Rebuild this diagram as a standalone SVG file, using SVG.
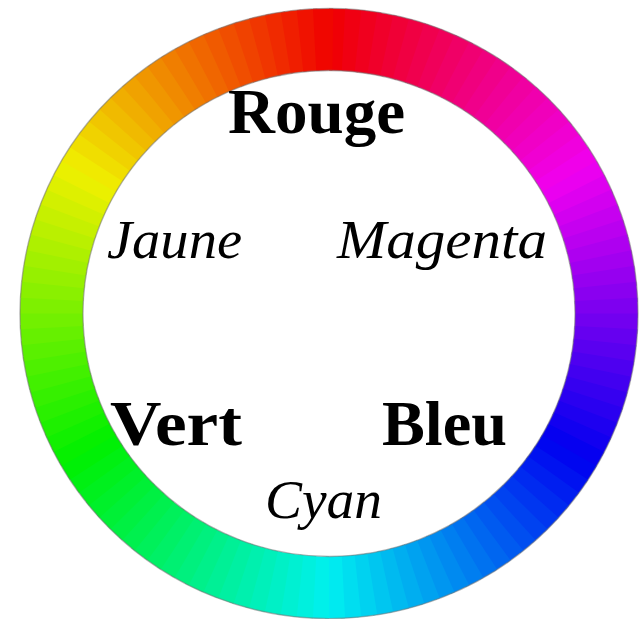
<svg xmlns="http://www.w3.org/2000/svg" xmlns:xlink="http://www.w3.org/1999/xlink" width="640" height="619" viewBox="0 0 640 619">
<style>
.seg{fill:none;stroke-width:62.5;stroke-dasharray:3.8 356.2}
.bold{font-family:"Liberation Serif","Times New Roman",serif;font-weight:bold;font-size:64px;fill:#000}
.ital{font-family:"Liberation Serif","Times New Roman",serif;font-style:italic;font-size:55px;fill:#000}
.edge{fill:none;stroke:#777;stroke-opacity:0.55;stroke-width:1.4}
</style>
<defs>
<circle id="c" cx="0" cy="0" r="275.5" pathLength="360"/>
</defs>
<rect width="640" height="619" fill="#fff"/>
<g id="ring" transform="translate(329,313.5) scale(1.0073,0.9946) rotate(-90)">
<g class="seg">
<use href="#c" style="stroke:hsl(358.5,100%,47%);stroke-dashoffset:0"/>
<use href="#c" style="stroke:hsl(355.5,100%,47%);stroke-dashoffset:-3"/>
<use href="#c" style="stroke:hsl(352.5,100%,47%);stroke-dashoffset:-6"/>
<use href="#c" style="stroke:hsl(349.5,100%,47%);stroke-dashoffset:-9"/>
<use href="#c" style="stroke:hsl(346.5,100%,47%);stroke-dashoffset:-12"/>
<use href="#c" style="stroke:hsl(343.5,100%,47%);stroke-dashoffset:-15"/>
<use href="#c" style="stroke:hsl(340.5,100%,47%);stroke-dashoffset:-18"/>
<use href="#c" style="stroke:hsl(337.5,100%,47%);stroke-dashoffset:-21"/>
<use href="#c" style="stroke:hsl(334.5,100%,47%);stroke-dashoffset:-24"/>
<use href="#c" style="stroke:hsl(331.5,100%,47%);stroke-dashoffset:-27"/>
<use href="#c" style="stroke:hsl(328.5,100%,47%);stroke-dashoffset:-30"/>
<use href="#c" style="stroke:hsl(325.5,100%,47%);stroke-dashoffset:-33"/>
<use href="#c" style="stroke:hsl(322.5,100%,47%);stroke-dashoffset:-36"/>
<use href="#c" style="stroke:hsl(319.5,100%,47%);stroke-dashoffset:-39"/>
<use href="#c" style="stroke:hsl(316.5,100%,47%);stroke-dashoffset:-42"/>
<use href="#c" style="stroke:hsl(313.5,100%,47%);stroke-dashoffset:-45"/>
<use href="#c" style="stroke:hsl(310.5,100%,47%);stroke-dashoffset:-48"/>
<use href="#c" style="stroke:hsl(307.5,100%,47%);stroke-dashoffset:-51"/>
<use href="#c" style="stroke:hsl(304.5,100%,47%);stroke-dashoffset:-54"/>
<use href="#c" style="stroke:hsl(301.5,100%,47%);stroke-dashoffset:-57"/>
<use href="#c" style="stroke:hsl(298.5,100%,47%);stroke-dashoffset:-60"/>
<use href="#c" style="stroke:hsl(295.5,100%,47%);stroke-dashoffset:-63"/>
<use href="#c" style="stroke:hsl(292.5,100%,47%);stroke-dashoffset:-66"/>
<use href="#c" style="stroke:hsl(289.5,100%,47%);stroke-dashoffset:-69"/>
<use href="#c" style="stroke:hsl(286.5,100%,47%);stroke-dashoffset:-72"/>
<use href="#c" style="stroke:hsl(283.5,100%,47%);stroke-dashoffset:-75"/>
<use href="#c" style="stroke:hsl(280.5,100%,47%);stroke-dashoffset:-78"/>
<use href="#c" style="stroke:hsl(277.5,100%,47%);stroke-dashoffset:-81"/>
<use href="#c" style="stroke:hsl(274.5,100%,47%);stroke-dashoffset:-84"/>
<use href="#c" style="stroke:hsl(271.5,100%,47%);stroke-dashoffset:-87"/>
<use href="#c" style="stroke:hsl(268.5,100%,47%);stroke-dashoffset:-90"/>
<use href="#c" style="stroke:hsl(265.5,100%,47%);stroke-dashoffset:-93"/>
<use href="#c" style="stroke:hsl(262.5,100%,47%);stroke-dashoffset:-96"/>
<use href="#c" style="stroke:hsl(259.5,100%,47%);stroke-dashoffset:-99"/>
<use href="#c" style="stroke:hsl(256.5,100%,47%);stroke-dashoffset:-102"/>
<use href="#c" style="stroke:hsl(253.5,100%,47%);stroke-dashoffset:-105"/>
<use href="#c" style="stroke:hsl(250.5,100%,47%);stroke-dashoffset:-108"/>
<use href="#c" style="stroke:hsl(247.5,100%,47%);stroke-dashoffset:-111"/>
<use href="#c" style="stroke:hsl(244.5,100%,47%);stroke-dashoffset:-114"/>
<use href="#c" style="stroke:hsl(241.5,100%,47%);stroke-dashoffset:-117"/>
<use href="#c" style="stroke:hsl(238.5,100%,47%);stroke-dashoffset:-120"/>
<use href="#c" style="stroke:hsl(235.5,100%,47%);stroke-dashoffset:-123"/>
<use href="#c" style="stroke:hsl(232.5,100%,47%);stroke-dashoffset:-126"/>
<use href="#c" style="stroke:hsl(229.5,100%,47%);stroke-dashoffset:-129"/>
<use href="#c" style="stroke:hsl(226.5,100%,47%);stroke-dashoffset:-132"/>
<use href="#c" style="stroke:hsl(223.5,100%,47%);stroke-dashoffset:-135"/>
<use href="#c" style="stroke:hsl(220.5,100%,47%);stroke-dashoffset:-138"/>
<use href="#c" style="stroke:hsl(217.5,100%,47%);stroke-dashoffset:-141"/>
<use href="#c" style="stroke:hsl(214.5,100%,47%);stroke-dashoffset:-144"/>
<use href="#c" style="stroke:hsl(211.5,100%,47%);stroke-dashoffset:-147"/>
<use href="#c" style="stroke:hsl(208.5,100%,47%);stroke-dashoffset:-150"/>
<use href="#c" style="stroke:hsl(205.5,100%,47%);stroke-dashoffset:-153"/>
<use href="#c" style="stroke:hsl(202.5,100%,47%);stroke-dashoffset:-156"/>
<use href="#c" style="stroke:hsl(199.5,100%,47%);stroke-dashoffset:-159"/>
<use href="#c" style="stroke:hsl(196.5,100%,47%);stroke-dashoffset:-162"/>
<use href="#c" style="stroke:hsl(193.5,100%,47%);stroke-dashoffset:-165"/>
<use href="#c" style="stroke:hsl(190.5,100%,47%);stroke-dashoffset:-168"/>
<use href="#c" style="stroke:hsl(187.5,100%,47%);stroke-dashoffset:-171"/>
<use href="#c" style="stroke:hsl(184.5,100%,47%);stroke-dashoffset:-174"/>
<use href="#c" style="stroke:hsl(181.5,100%,47%);stroke-dashoffset:-177"/>
<use href="#c" style="stroke:hsl(178.5,100%,47%);stroke-dashoffset:-180"/>
<use href="#c" style="stroke:hsl(175.5,100%,47%);stroke-dashoffset:-183"/>
<use href="#c" style="stroke:hsl(172.5,100%,47%);stroke-dashoffset:-186"/>
<use href="#c" style="stroke:hsl(169.5,100%,47%);stroke-dashoffset:-189"/>
<use href="#c" style="stroke:hsl(166.5,100%,47%);stroke-dashoffset:-192"/>
<use href="#c" style="stroke:hsl(163.5,100%,47%);stroke-dashoffset:-195"/>
<use href="#c" style="stroke:hsl(160.5,100%,47%);stroke-dashoffset:-198"/>
<use href="#c" style="stroke:hsl(157.5,100%,47%);stroke-dashoffset:-201"/>
<use href="#c" style="stroke:hsl(154.5,100%,47%);stroke-dashoffset:-204"/>
<use href="#c" style="stroke:hsl(151.5,100%,47%);stroke-dashoffset:-207"/>
<use href="#c" style="stroke:hsl(148.5,100%,47%);stroke-dashoffset:-210"/>
<use href="#c" style="stroke:hsl(145.5,100%,47%);stroke-dashoffset:-213"/>
<use href="#c" style="stroke:hsl(142.5,100%,47%);stroke-dashoffset:-216"/>
<use href="#c" style="stroke:hsl(139.5,100%,47%);stroke-dashoffset:-219"/>
<use href="#c" style="stroke:hsl(136.5,100%,47%);stroke-dashoffset:-222"/>
<use href="#c" style="stroke:hsl(133.5,100%,47%);stroke-dashoffset:-225"/>
<use href="#c" style="stroke:hsl(130.5,100%,47%);stroke-dashoffset:-228"/>
<use href="#c" style="stroke:hsl(127.5,100%,47%);stroke-dashoffset:-231"/>
<use href="#c" style="stroke:hsl(124.5,100%,47%);stroke-dashoffset:-234"/>
<use href="#c" style="stroke:hsl(121.5,100%,47%);stroke-dashoffset:-237"/>
<use href="#c" style="stroke:hsl(118.5,100%,47%);stroke-dashoffset:-240"/>
<use href="#c" style="stroke:hsl(115.5,100%,47%);stroke-dashoffset:-243"/>
<use href="#c" style="stroke:hsl(112.5,100%,47%);stroke-dashoffset:-246"/>
<use href="#c" style="stroke:hsl(109.5,100%,47%);stroke-dashoffset:-249"/>
<use href="#c" style="stroke:hsl(106.5,100%,47%);stroke-dashoffset:-252"/>
<use href="#c" style="stroke:hsl(103.5,100%,47%);stroke-dashoffset:-255"/>
<use href="#c" style="stroke:hsl(100.5,100%,47%);stroke-dashoffset:-258"/>
<use href="#c" style="stroke:hsl(97.5,100%,47%);stroke-dashoffset:-261"/>
<use href="#c" style="stroke:hsl(94.5,100%,47%);stroke-dashoffset:-264"/>
<use href="#c" style="stroke:hsl(91.5,100%,47%);stroke-dashoffset:-267"/>
<use href="#c" style="stroke:hsl(88.5,100%,47%);stroke-dashoffset:-270"/>
<use href="#c" style="stroke:hsl(85.5,100%,47%);stroke-dashoffset:-273"/>
<use href="#c" style="stroke:hsl(82.5,100%,47%);stroke-dashoffset:-276"/>
<use href="#c" style="stroke:hsl(79.5,100%,47%);stroke-dashoffset:-279"/>
<use href="#c" style="stroke:hsl(76.5,100%,47%);stroke-dashoffset:-282"/>
<use href="#c" style="stroke:hsl(73.5,100%,47%);stroke-dashoffset:-285"/>
<use href="#c" style="stroke:hsl(70.5,100%,47%);stroke-dashoffset:-288"/>
<use href="#c" style="stroke:hsl(67.5,100%,47%);stroke-dashoffset:-291"/>
<use href="#c" style="stroke:hsl(64.5,100%,47%);stroke-dashoffset:-294"/>
<use href="#c" style="stroke:hsl(61.5,100%,47%);stroke-dashoffset:-297"/>
<use href="#c" style="stroke:hsl(58.5,100%,47%);stroke-dashoffset:-300"/>
<use href="#c" style="stroke:hsl(55.5,100%,47%);stroke-dashoffset:-303"/>
<use href="#c" style="stroke:hsl(52.5,100%,47%);stroke-dashoffset:-306"/>
<use href="#c" style="stroke:hsl(49.5,100%,47%);stroke-dashoffset:-309"/>
<use href="#c" style="stroke:hsl(46.5,100%,47%);stroke-dashoffset:-312"/>
<use href="#c" style="stroke:hsl(43.5,100%,47%);stroke-dashoffset:-315"/>
<use href="#c" style="stroke:hsl(40.5,100%,47%);stroke-dashoffset:-318"/>
<use href="#c" style="stroke:hsl(37.5,100%,47%);stroke-dashoffset:-321"/>
<use href="#c" style="stroke:hsl(34.5,100%,47%);stroke-dashoffset:-324"/>
<use href="#c" style="stroke:hsl(31.5,100%,47%);stroke-dashoffset:-327"/>
<use href="#c" style="stroke:hsl(28.5,100%,47%);stroke-dashoffset:-330"/>
<use href="#c" style="stroke:hsl(25.5,100%,47%);stroke-dashoffset:-333"/>
<use href="#c" style="stroke:hsl(22.5,100%,47%);stroke-dashoffset:-336"/>
<use href="#c" style="stroke:hsl(19.5,100%,47%);stroke-dashoffset:-339"/>
<use href="#c" style="stroke:hsl(16.5,100%,47%);stroke-dashoffset:-342"/>
<use href="#c" style="stroke:hsl(13.5,100%,47%);stroke-dashoffset:-345"/>
<use href="#c" style="stroke:hsl(10.5,100%,47%);stroke-dashoffset:-348"/>
<use href="#c" style="stroke:hsl(7.5,100%,47%);stroke-dashoffset:-351"/>
<use href="#c" style="stroke:hsl(4.5,100%,47%);stroke-dashoffset:-354"/>
<use href="#c" style="stroke:hsl(1.5,100%,47%);stroke-dashoffset:-357"/>
</g>
<circle class="edge" r="306.75" vector-effect="non-scaling-stroke"/>
<circle class="edge" r="244.25" vector-effect="non-scaling-stroke"/>
</g>
<g id="rouge"><text class="bold" x="228" y="133" textLength="177" lengthAdjust="spacingAndGlyphs">Rouge</text></g>
<g id="jaune"><text class="ital" x="107" y="258" textLength="135" lengthAdjust="spacingAndGlyphs">Jaune</text></g>
<g id="magenta"><text class="ital" x="337" y="258" textLength="210" lengthAdjust="spacingAndGlyphs">Magenta</text></g>
<g id="vert"><text class="bold" x="110" y="445" textLength="132" lengthAdjust="spacingAndGlyphs">Vert</text></g>
<g id="bleu"><text class="bold" x="382" y="445" textLength="125" lengthAdjust="spacingAndGlyphs">Bleu</text></g>
<g id="cyan"><text class="ital" x="265" y="518" textLength="117" lengthAdjust="spacingAndGlyphs">Cyan</text></g>
</svg>
